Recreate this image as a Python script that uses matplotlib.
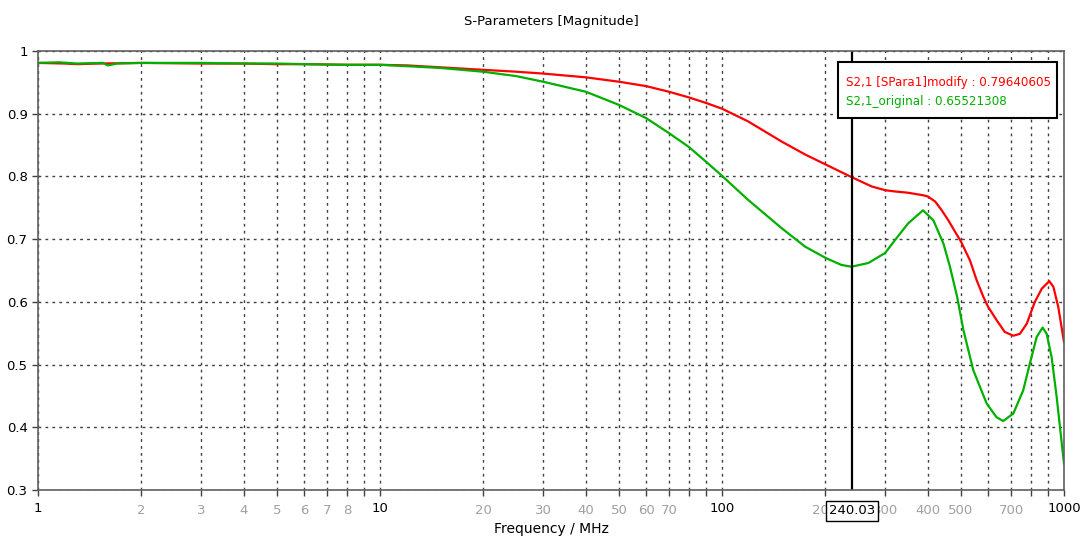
import matplotlib
matplotlib.use("Agg")
import matplotlib.pyplot as plt
from matplotlib.patches import Rectangle
from matplotlib.ticker import FixedLocator, NullFormatter

# frequencies (MHz) and |S21|
freq_mod = [1, 1.2, 1.3, 1.5, 2, 3, 4, 5, 6, 8, 10, 12, 15, 20, 25, 30, 40, 50,
            60, 70, 80, 90, 100, 119, 149, 175, 201, 239, 274, 300, 321, 350,
            387, 400, 420, 439, 459, 480, 500, 531, 555, 581, 600, 635, 671,
            711, 743, 778, 822, 861, 906, 931, 962, 1000]
s21_mod = [0.981, 0.980, 0.979, 0.980, 0.981, 0.980, 0.980, 0.979, 0.979, 0.978,
           0.978, 0.977, 0.974, 0.970, 0.967, 0.964, 0.958, 0.951, 0.944, 0.935,
           0.926, 0.917, 0.908, 0.888, 0.856, 0.835, 0.819, 0.799, 0.784, 0.778,
           0.776, 0.774, 0.770, 0.768, 0.760, 0.746, 0.730, 0.712, 0.696, 0.666,
           0.635, 0.608, 0.592, 0.571, 0.552, 0.546, 0.549, 0.565, 0.600, 0.621,
           0.633, 0.624, 0.592, 0.536]

freq_org = [1, 1.15, 1.3, 1.55, 1.6, 1.7, 2, 3, 4, 5, 6, 8, 10, 15, 20, 25, 30,
            40, 50, 60, 70, 80, 90, 100, 119, 149, 175, 201, 223, 239, 268, 300,
            321, 350, 387, 415, 444, 464, 487, 508, 543, 594, 635, 664, 711,
            760, 795, 832, 866, 890, 920, 952, 1000]
s21_org = [0.981, 0.982, 0.980, 0.981, 0.977, 0.980, 0.981, 0.981, 0.980, 0.980,
           0.979, 0.978, 0.978, 0.973, 0.967, 0.960, 0.951, 0.935, 0.914, 0.893,
           0.869, 0.847, 0.823, 0.801, 0.763, 0.718, 0.688, 0.670, 0.659, 0.656,
           0.662, 0.678, 0.699, 0.725, 0.746, 0.730, 0.693, 0.656, 0.608, 0.555,
           0.491, 0.438, 0.416, 0.410, 0.422, 0.459, 0.502, 0.544, 0.559, 0.549,
           0.512, 0.448, 0.342]

cursor_f = 240.03
cursor_mod = 0.79640605
cursor_org = 0.65521308

major_ticks = [1, 10, 100, 1000]
minor_ticks = [2, 3, 4, 5, 6, 7, 8, 9, 20, 30, 40, 50, 60, 70, 80, 90,
               200, 300, 400, 500, 600, 700, 800, 900]
minor_labels = [2, 3, 4, 5, 6, 7, 8, 20, 30, 40, 50, 60, 70, 200, 300, 400, 500, 700]
y_ticks = [0.3, 0.4, 0.5, 0.6, 0.7, 0.8, 0.9, 1.0]

plt.rcParams['font.family'] = ['DejaVu Sans']
fig = plt.figure(figsize=(10.8, 5.44), dpi=100)
ax = fig.add_axes([38/1080, 1-490/544, (1064-38)/1080, (490-51)/544])

red = '#ff0000'
green = '#00b000'
ax.plot(freq_mod, s21_mod, color=red, lw=1.6)
ax.plot(freq_org, s21_org, color=green, lw=1.6)

ax.set_xscale('log')
ax.set_xlim(1, 1000)
ax.set_ylim(0.3, 1.0)

ax.xaxis.set_major_locator(FixedLocator(major_ticks))
ax.xaxis.set_minor_locator(FixedLocator(minor_ticks))
ax.xaxis.set_minor_formatter(NullFormatter())
ax.set_xticklabels([str(t) for t in major_ticks], fontsize=9.5, color='black')
ax.set_yticks(y_ticks)
ax.set_yticklabels(['0.3', '0.4', '0.5', '0.6', '0.7', '0.8', '0.9', '1'], fontsize=9.5)

for t in minor_labels:
    ax.text(t, -0.033, str(t), transform=ax.get_xaxis_transform(), ha='center',
            va='top', fontsize=9.5, color='#a0a0a0')

ax.tick_params(axis='both', which='both', direction='out', length=4, width=1,
               color='#404040')
ax.tick_params(axis='x', which='major', pad=5)
ax.grid(True, which='both', axis='x', color='#404040', ls=(0, (2, 3)), lw=1)
ax.grid(True, which='major', axis='y', color='#404040', ls=(0, (2, 3)), lw=1)
for s in ax.spines.values():
    s.set_color('#606060')
    s.set_linewidth(1.2)

# cursor line and its frequency box (covers the 200/300 labels like the original)
ax.axvline(cursor_f, color='black', lw=1.6)
ax.text(cursor_f, -0.033, '%.2f' % cursor_f, transform=ax.get_xaxis_transform(),
        ha='center', va='top', fontsize=9.5, color='black', zorder=5,
        bbox=dict(boxstyle='square,pad=0.25', fc='white', ec='black', lw=1))

# cursor readout box
ax.add_patch(Rectangle((0.7797, 0.847), 0.2135, 0.128, transform=ax.transAxes,
                       fc='white', ec='black', lw=1.5, zorder=6))
ax.text(0.7875, 0.929, 'S2,1 [SPara1]modify : %.8f' % cursor_mod,
        transform=ax.transAxes, ha='left', va='center', fontsize=8.6,
        color=red, zorder=7)
ax.text(0.7875, 0.884, 'S2,1_original : %.8f' % cursor_org,
        transform=ax.transAxes, ha='left', va='center', fontsize=8.6,
        color=green, zorder=7)

ax.set_title('S-Parameters [Magnitude]', fontsize=9.5, pad=19)
ax.set_xlabel('Frequency / MHz', fontsize=10, labelpad=5)

fig.savefig('out.png', dpi=100)
